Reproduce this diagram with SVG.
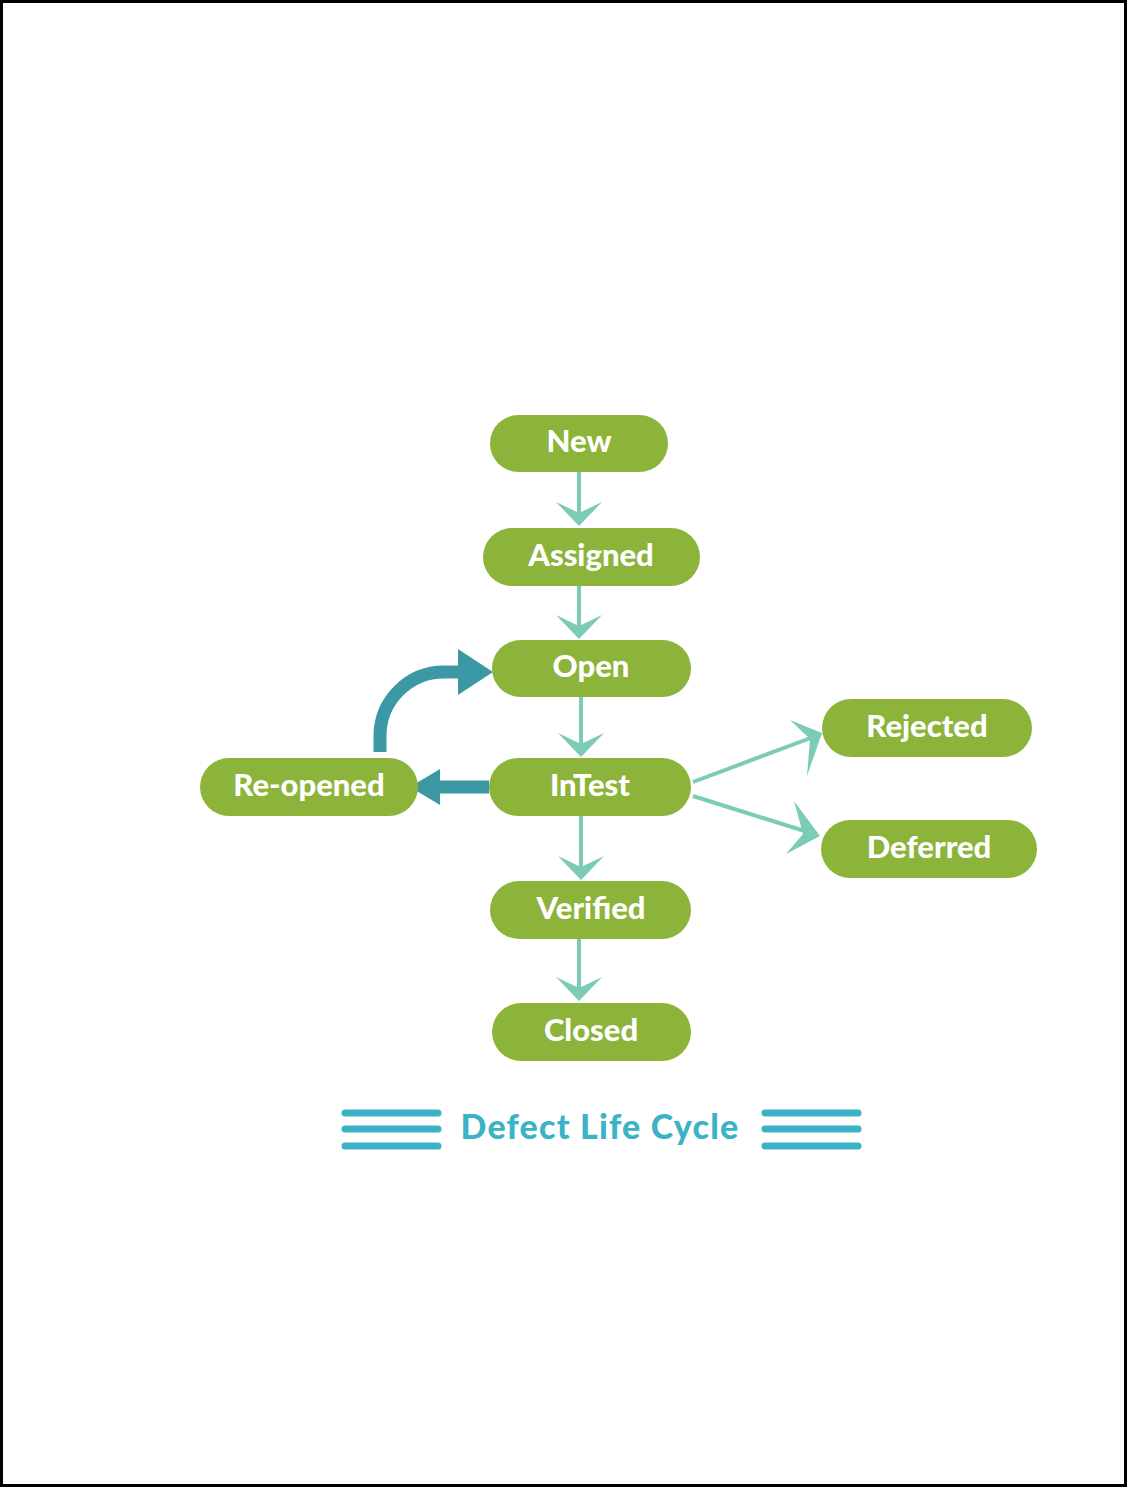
<svg xmlns="http://www.w3.org/2000/svg" width="1128" height="1488" viewBox="0 0 1128 1488">
<defs>
<style>
.node rect{fill:#8db43a;}
.node text{fill:#ffffff;font-family:Lato,"Open Sans",sans-serif;font-weight:900;font-size:31px;text-anchor:middle;dominant-baseline:central;}
.ln{stroke:#7ccbb6;stroke-width:4;fill:none;}
.hd{fill:#7ccbb6;}
.dk{stroke:#3d98a6;fill:none;stroke-width:13;}
.dkh{fill:#3d98a6;}
.bar{stroke:#3bb3c6;stroke-width:7;stroke-linecap:round;}
</style>
</defs>
<rect x="0" y="0" width="1128" height="1488" fill="#ffffff"/>
<rect x="1.5" y="1.5" width="1124" height="1484" fill="none" stroke="#000" stroke-width="3"/>
<g id="connectors">
<line class="ln" x1="579" y1="472" x2="579" y2="520"/>
<polygon class="hd" points="579,526 556,502 579,513 602,502"/>
<line class="ln" x1="579" y1="586" x2="579" y2="632"/>
<polygon class="hd" points="579,639 556,615 579,626 602,615"/>
<line class="ln" x1="581" y1="697" x2="581" y2="750"/>
<polygon class="hd" points="581,757 558,733 581,744 604,733"/>
<line class="ln" x1="581" y1="816" x2="581" y2="873"/>
<polygon class="hd" points="581,880 558,856 581,867 604,856"/>
<line class="ln" x1="579" y1="939" x2="579" y2="994"/>
<polygon class="hd" points="579,1001 556,977 579,988 602,977"/>
<line class="ln" x1="693" y1="782" x2="816" y2="736"/>
<polygon class="hd" points="822,733 790,720 810,739 807,776"/>
<line class="ln" x1="693" y1="796" x2="814" y2="834"/>
<polygon class="hd" points="820,836 786,854 803,834 794,801"/>
<line class="dk" x1="489" y1="787" x2="436" y2="787"/>
<polygon class="dkh" points="410,787 440,769 440,805"/>
<path class="dk" d="M380,752 L380,736 A64,64 0 0 1 444,672 L462,672"/>
<polygon class="dkh" points="493,672 458,649 458,695"/>
</g>
<g id="node-new" class="node"><rect x="490" y="415" width="178" height="57" rx="28.5"/><text x="579" y="440">New</text></g>
<g id="node-assigned" class="node"><rect x="483" y="528" width="217" height="58" rx="29"/><text x="591" y="554">Assigned</text></g>
<g id="node-open" class="node"><rect x="492" y="640" width="199" height="57" rx="28.5"/><text x="591" y="665">Open</text></g>
<g id="node-intest" class="node"><rect x="489" y="758" width="202" height="58" rx="29"/><text x="590" y="784">InTest</text></g>
<g id="node-reopened" class="node"><rect x="200" y="758" width="218" height="58" rx="29"/><text x="309" y="784">Re-opened</text></g>
<g id="node-rejected" class="node"><rect x="822" y="699" width="210" height="58" rx="29"/><text x="927" y="725">Rejected</text></g>
<g id="node-deferred" class="node"><rect x="821" y="820" width="216" height="58" rx="29"/><text x="929" y="846">Deferred</text></g>
<g id="node-verified" class="node"><rect x="490" y="881" width="201" height="58" rx="29"/><text x="591" y="907">Verified</text></g>
<g id="node-closed" class="node"><rect x="492" y="1003" width="199" height="58" rx="29"/><text x="591" y="1029">Closed</text></g>
<g id="title">
<line class="bar" x1="345" y1="1113" x2="438" y2="1113"/>
<line class="bar" x1="345" y1="1129" x2="438" y2="1129"/>
<line class="bar" x1="345" y1="1146" x2="438" y2="1146"/>
<line class="bar" x1="765" y1="1113" x2="858" y2="1113"/>
<line class="bar" x1="765" y1="1129" x2="858" y2="1129"/>
<line class="bar" x1="765" y1="1146" x2="858" y2="1146"/>
<text x="600" y="1139" fill="#3bb3c6" font-family="Lato,'Open Sans',sans-serif" font-weight="900" font-size="34" letter-spacing="1.2" text-anchor="middle">Defect Life Cycle</text>
</g>
</svg>
